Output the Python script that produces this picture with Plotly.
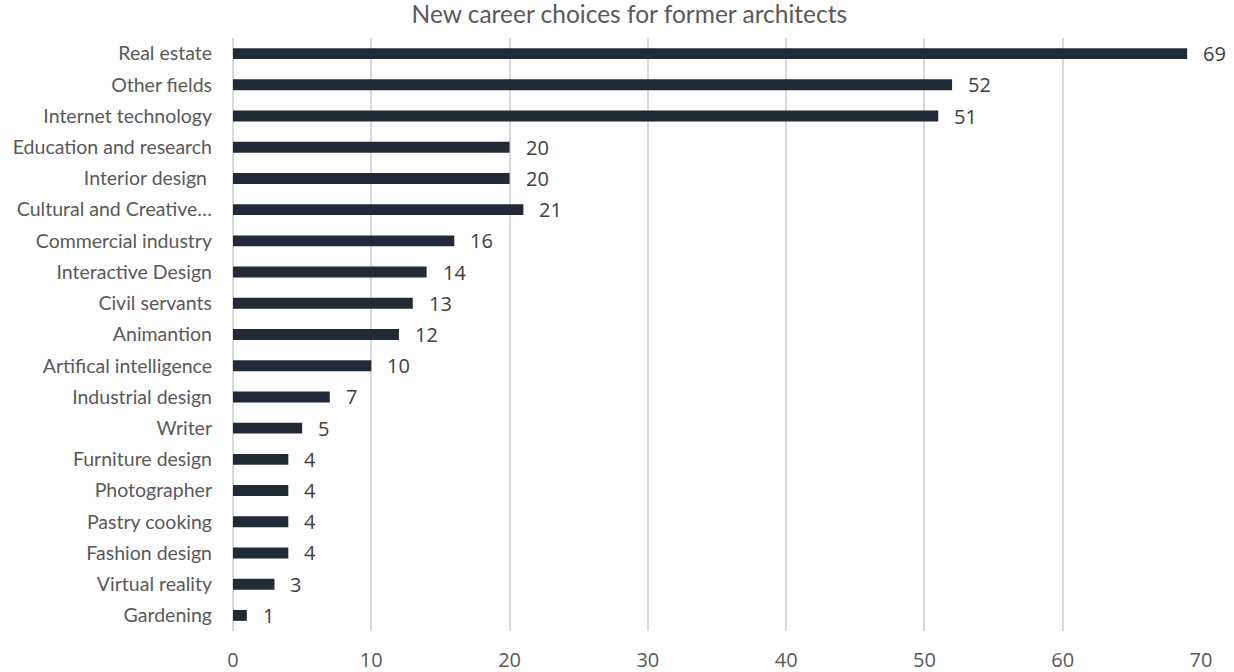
import plotly.graph_objects as go

categories = ["Real estate", "Other fields", "Internet technology", "Education and research",
              "Interior design ", "Cultural and Creative…", "Commercial industry", "Interactive Design",
              "Civil servants", "Animantion", "Artifical intelligence", "Industrial design", "Writer",
              "Furniture design", "Photographer", "Pastry cooking", "Fashion design", "Virtual reality",
              "Gardening"]
values = [69, 52, 51, 20, 20, 21, 16, 14, 13, 12, 10, 7, 5, 4, 4, 4, 4, 3, 1]
x_ticks = [0, 10, 20, 30, 40, 50, 60, 70]

fig = go.Figure()
fig.add_trace(go.Bar(
    x=values, y=categories, orientation="h",
    marker=dict(color="#212b38", line=dict(width=0)),
    hoverinfo="x+y",
))

for c, v in zip(categories, values):
    fig.add_annotation(x=v, y=c, text=str(v), showarrow=False, xanchor="left",
                       xshift=14, font=dict(family="Open Sans", size=20, color="#404040"))

fig.update_layout(
    width=1234, height=672,
    margin=dict(l=233, r=33, t=38, b=41),
    paper_bgcolor="white", plot_bgcolor="white",
    bargap=0.65,
    showlegend=False,
    title=dict(text="New career choices for former architects", x=0.51, xanchor="center",
               y=0.978, yanchor="middle", xref="container", yref="container",
               font=dict(family="Lato", size=24.5, color="#595959")),
    xaxis=dict(range=[0, 70], tickvals=x_ticks, showgrid=True, gridcolor="#d9d9d9", gridwidth=1.5,
               zeroline=True, zerolinecolor="#d9d9d9", zerolinewidth=1.5, showline=False,
               ticks="", ticklabelstandoff=15, automargin=False,
               tickfont=dict(family="Open Sans", size=20, color="#595959")),
    yaxis=dict(autorange="reversed", showgrid=False, ticks="", showline=False,
               ticklabelstandoff=20, automargin=False,
               tickfont=dict(family="Lato", size=19.5, color="#595959")),
)

fig.write_html("out.html")
